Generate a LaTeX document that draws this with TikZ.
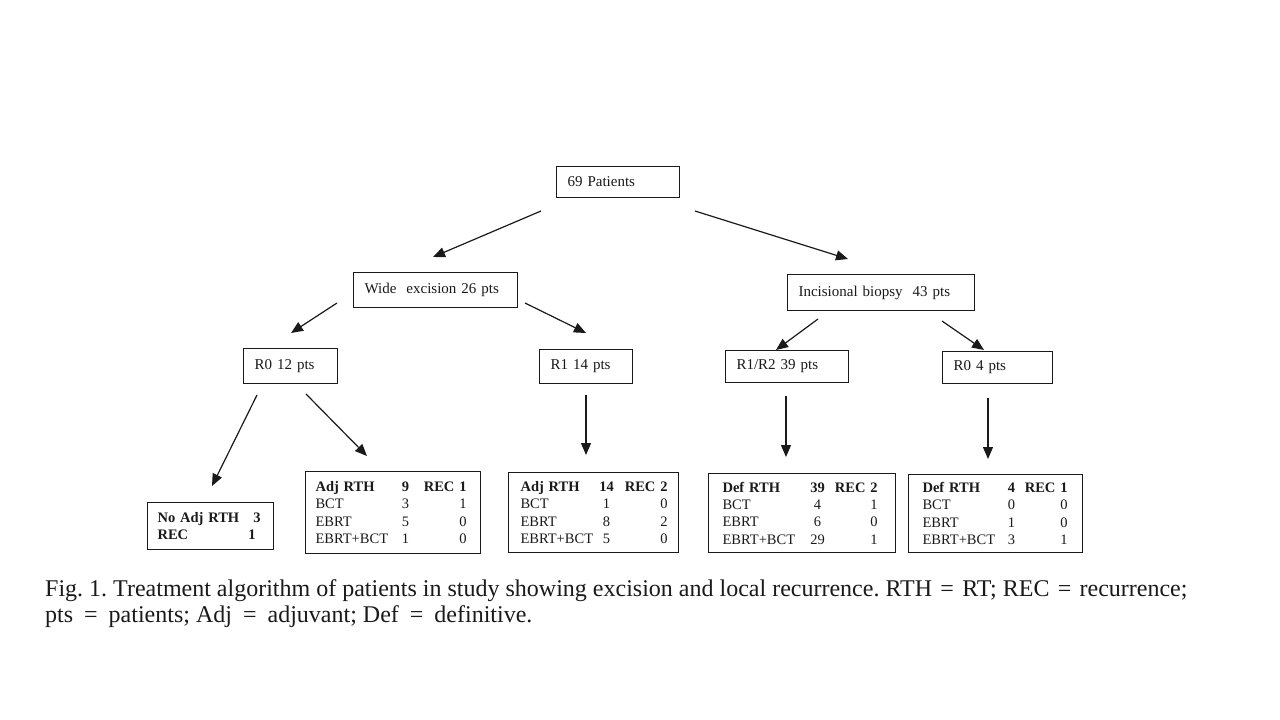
\documentclass[tikz,border=0pt]{standalone}
\usepackage{fontspec}
\setmainfont{Liberation Serif}
\usetikzlibrary{arrows.meta}
\definecolor{ink}{HTML}{1A1A1A}
\frenchspacing
\newlength{\cwa}\newlength{\cwb}\newlength{\cwc}
\newcommand{\cols}[3]{\setlength{\cwa}{#1pt}\setlength{\cwb}{#2pt}\setlength{\cwc}{#3pt}}
\newcommand{\trow}[3]{\makebox[\cwa][l]{#1}\makebox[\cwb][c]{#2}\makebox[\cwc][r]{#3}}
\newcommand{\eqs}{\hspace{11pt}=\hspace{11pt}}
\newcommand{\eqa}{\hspace{8.3pt}=\hspace{8.3pt}}
\begin{document}
\begin{tikzpicture}[x=1pt,y=-1pt,
  box/.style={draw=ink, line width=1.1pt, anchor=north west, align=left,
    inner xsep=11pt, inner ysep=0pt, text=ink, font=\fontsize{15}{18}\selectfont},
  tbl/.style={draw=ink, line width=1.1pt, anchor=north west, align=left,
    inner ysep=0pt, text=ink, font=\fontsize{14.5}{17.3}\selectfont},
  arr/.style={draw=ink, line width=1.2pt, -{Triangle[length=12pt,width=10pt]}},
  captxt/.style={anchor=base west, inner sep=0pt, text=ink, font=\fontsize{24}{28}\selectfont}
]
\useasboundingbox[fill=white] (0,0) rectangle (1280,720);

% level boxes
\node[box, text width=101pt, minimum height=31pt] (pat) at (556,166) {69 Patients};
\node[box, text width=142pt, minimum height=35pt] (wide) at (353,272) {Wide\ \ excision 26 pts};
\node[box, text width=165pt, minimum height=36pt] (inc) at (787,274) {Incisional biopsy\ \ 43 pts};
\node[box, text width=72pt, minimum height=35pt] (r0a) at (243,348) {R0 12 pts};
\node[box, text width=71pt, minimum height=34pt] (r1) at (539,349) {R1 14 pts};
\node[box, text width=101pt, minimum height=32pt] (r12) at (725,350) {R1/R2 39 pts};
\node[box, text width=88pt, minimum height=32pt] (r0b) at (942,351) {R0 4 pts};

% tables
\node[tbl, inner xsep=10pt, text width=106pt, minimum height=47pt] (noadj) at (147,502)
  {\cols{93}{0}{10}\trow{\textbf{No Adj RTH}}{}{\textbf{3}}\\
   \cols{90}{0}{8}\trow{\textbf{REC}}{}{\textbf{1}}};
\node[tbl, inner xsep=10pt, text width=155pt, minimum height=82pt] (adj9) at (305,471)
  {\cols{75}{30}{46}\trow{\textbf{Adj RTH}}{\textbf{9}}{\textbf{REC 1}}\\
   \trow{BCT}{3}{1}\\ \trow{EBRT}{5}{0}\\ \trow{EBRT+BCT}{1}{0}};
\node[tbl, inner xsep=12pt, text width=146pt, minimum height=80pt] (adj14) at (508,472)
  {\cols{71}{30}{46}\trow{\textbf{Adj RTH}}{\textbf{14}}{\textbf{REC 2}}\\
   \trow{BCT}{1}{0}\\ \trow{EBRT}{8}{2}\\ \trow{EBRT+BCT}{5}{0}};
\node[tbl, inner xsep=14pt, text width=159pt, minimum height=79pt] (def39) at (708,473)
  {\cols{80}{30}{45}\trow{\textbf{Def RTH}}{\textbf{39}}{\textbf{REC 2}}\\
   \trow{BCT}{4}{1}\\ \trow{EBRT}{6}{0}\\ \trow{EBRT+BCT}{29}{1}};
\node[tbl, inner xsep=14pt, text width=146pt, minimum height=78pt] (def4) at (908,474)
  {\cols{74}{30}{41}\trow{\textbf{Def RTH}}{\textbf{4}}{\textbf{REC 1}}\\
   \trow{BCT}{0}{0}\\ \trow{EBRT}{1}{0}\\ \trow{EBRT+BCT}{3}{1}};

% connector end points
\coordinate (a1s) at (541,211); \coordinate (a1e) at (433,257);
\coordinate (a2s) at (695,211); \coordinate (a2e) at (848,259);
\coordinate (a3s) at (337,303); \coordinate (a3e) at (291,333);
\coordinate (a4s) at (525,303); \coordinate (a4e) at (586,333);
\coordinate (a5s) at (818,319); \coordinate (a5e) at (776,350);
\coordinate (a6s) at (942,321); \coordinate (a6e) at (984,350);
\coordinate (a7s) at (257,395); \coordinate (a7e) at (212,486);
\coordinate (a8s) at (306,394); \coordinate (a8e) at (367,456);
\coordinate (a9s) at (586,395); \coordinate (a9e) at (586,455);
\coordinate (a10s) at (786,396); \coordinate (a10e) at (786,457);
\coordinate (a11s) at (988,398); \coordinate (a11e) at (988,459);

\draw[arr] (a1s) -- (a1e);
\draw[arr] (a2s) -- (a2e);
\draw[arr] (a3s) -- (a3e);
\draw[arr] (a4s) -- (a4e);
\draw[arr] (a5s) -- (a5e);
\draw[arr] (a6s) -- (a6e);
\draw[arr] (a7s) -- (a7e);
\draw[arr] (a8s) -- (a8e);
\draw[arr] (a9s) -- (a9e);
\draw[arr] (a10s) -- (a10e);
\draw[arr] (a11s) -- (a11e);

% caption
\node[captxt] (cap1) at (45,596) {Fig. 1. Treatment algorithm of patients in study showing excision and local recurrence. RTH\eqa RT; REC\eqa recurrence;};
\node[captxt] (cap2) at (45,622) {pts\eqs patients; Adj\eqs adjuvant; Def\eqs definitive.};
\end{tikzpicture}
\end{document}
